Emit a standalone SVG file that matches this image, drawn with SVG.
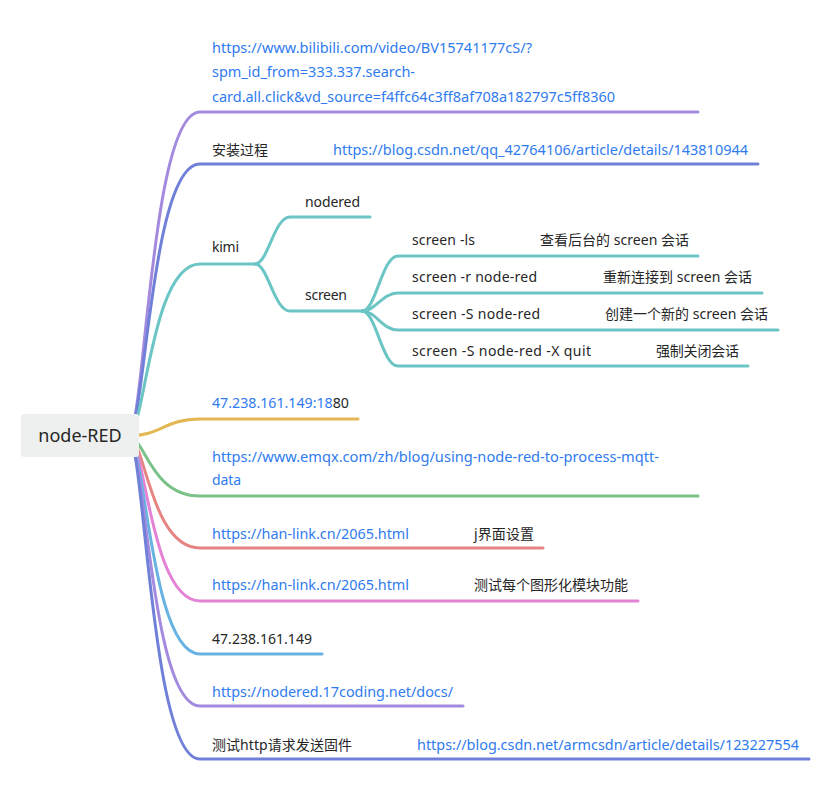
<svg xmlns="http://www.w3.org/2000/svg" width="838" height="797" viewBox="0 0 838 797">
<style>
  text { font-family: "Noto Sans", "Noto Sans CJK SC", sans-serif; font-size: 14px; fill: #262626; }
  .link { fill: #2f7bf0; }
  .c { fill: none; stroke-width: 3; stroke-linecap: round; }
  .purple { stroke: #a48ade; }
  .blue { stroke: #7080d8; }
  .teal { stroke: #6cc5c5; }
  .yellow { stroke: #e3b852; }
  .green { stroke: #7bc28a; }
  .salmon { stroke: #e58482; }
  .pink { stroke: #e483d6; }
  .lblue { stroke: #68b3e2; }
</style>
<rect width="838" height="797" fill="#ffffff"/>
<g id="connectors">
  <path class="c purple" d="M128 436 C145 436 150 112 200 112 L698 112"/>
  <path class="c blue" d="M128 436 C145 436 150 164 200 164 L758 164"/>
  <path class="c teal" d="M128 436 C145 436 150 264 200 264 L255 264"/>
  <path class="c teal" d="M255 264 C268 264 274 217 290 217 L370 217"/>
  <path class="c teal" d="M255 264 C268 264 274 311 290 311 L362 311"/>
  <path class="c teal" d="M362 311 C376 311 382 256 398 256 L698 256"/>
  <path class="c teal" d="M362 311 C376 311 382 293 398 293 L762 293"/>
  <path class="c teal" d="M362 311 C376 311 382 330 398 330 L778 330"/>
  <path class="c teal" d="M362 311 C376 311 382 366 398 366 L748 366"/>
  <path class="c yellow" d="M128 436 C160 436 165 419 200 419 L358 419"/>
  <path class="c green" d="M128 436 C145 436 150 496 200 496 L698 496"/>
  <path class="c salmon" d="M128 436 C145 436 150 548 200 548 L543 548"/>
  <path class="c pink" d="M128 436 C145 436 150 601 200 601 L638 601"/>
  <path class="c lblue" d="M128 436 C145 436 150 654 200 654 L322 654"/>
  <path class="c purple" d="M128 436 C145 436 150 706 200 706 L463 706"/>
  <path class="c blue" d="M128 436 C145 436 150 759 200 759 L809 759"/>
</g>
<g id="root">
  <rect x="21" y="414" width="118" height="43" rx="3" fill="#eef0ef"/>
  <text x="80" y="442" text-anchor="middle" style="font-size:18px">node-RED</text>
</g>
<g id="n-bilibili">
  <text class="link" x="212" y="53" textLength="320" lengthAdjust="spacingAndGlyphs">https://www.bilibili.com/video/BV15741177cS/?</text>
  <text class="link" x="212" y="77" textLength="203" lengthAdjust="spacingAndGlyphs">spm_id_from=333.337.search-</text>
  <text class="link" x="212" y="102" textLength="403" lengthAdjust="spacingAndGlyphs">card.all.click&amp;vd_source=f4ffc64c3ff8af708a182797c5ff8360</text>
</g>
<g id="n-install">
  <text x="212" y="155">安装过程</text>
  <text class="link" x="333" y="155" textLength="415" lengthAdjust="spacingAndGlyphs">https://blog.csdn.net/qq_42764106/article/details/143810944</text>
</g>
<g id="n-kimi"><text x="212" y="252" textLength="27">kimi</text></g>
<g id="n-nodered"><text x="305" y="207" textLength="55">nodered</text></g>
<g id="n-screen"><text x="305" y="300" textLength="42">screen</text></g>
<g id="n-ls"><text x="412" y="245" textLength="63">screen -ls</text><text x="540" y="245" textLength="149">查看后台的 screen 会话</text></g>
<g id="n-r"><text x="412" y="282" textLength="125">screen -r node-red</text><text x="603" y="282" textLength="149">重新连接到 screen 会话</text></g>
<g id="n-S"><text x="412" y="319" textLength="128">screen -S node-red</text><text x="605" y="319" textLength="163">创建一个新的 screen 会话</text></g>
<g id="n-X"><text x="412" y="356" textLength="179">screen -S node-red -X quit</text><text x="656" y="356" textLength="83">强制关闭会话</text></g>
<g id="n-ip1880"><text x="212" y="408" textLength="137" lengthAdjust="spacingAndGlyphs"><tspan class="link">47.238.161.149:18</tspan>80</text></g>
<g id="n-emqx">
  <text class="link" x="212" y="462" textLength="447" lengthAdjust="spacingAndGlyphs">https://www.emqx.com/zh/blog/using-node-red-to-process-mqtt-</text>
  <text class="link" x="212" y="485" textLength="29">data</text>
</g>
<g id="n-han1"><text class="link" x="212" y="539" textLength="197" lengthAdjust="spacingAndGlyphs">https://han-link.cn/2065.html</text><text x="474" y="539" textLength="60">j界面设置</text></g>
<g id="n-han2"><text class="link" x="212" y="590" textLength="197" lengthAdjust="spacingAndGlyphs">https://han-link.cn/2065.html</text><text x="474" y="590" textLength="154">测试每个图形化模块功能</text></g>
<g id="n-ip"><text x="212" y="644" textLength="100">47.238.161.149</text></g>
<g id="n-17coding"><text class="link" x="212" y="697" textLength="241" lengthAdjust="spacingAndGlyphs">https://nodered.17coding.net/docs/</text></g>
<g id="n-http">
  <text x="212" y="750" textLength="140">测试http请求发送固件</text>
  <text class="link" x="417" y="750" textLength="382" lengthAdjust="spacingAndGlyphs">https://blog.csdn.net/armcsdn/article/details/123227554</text>
</g>
</svg>
